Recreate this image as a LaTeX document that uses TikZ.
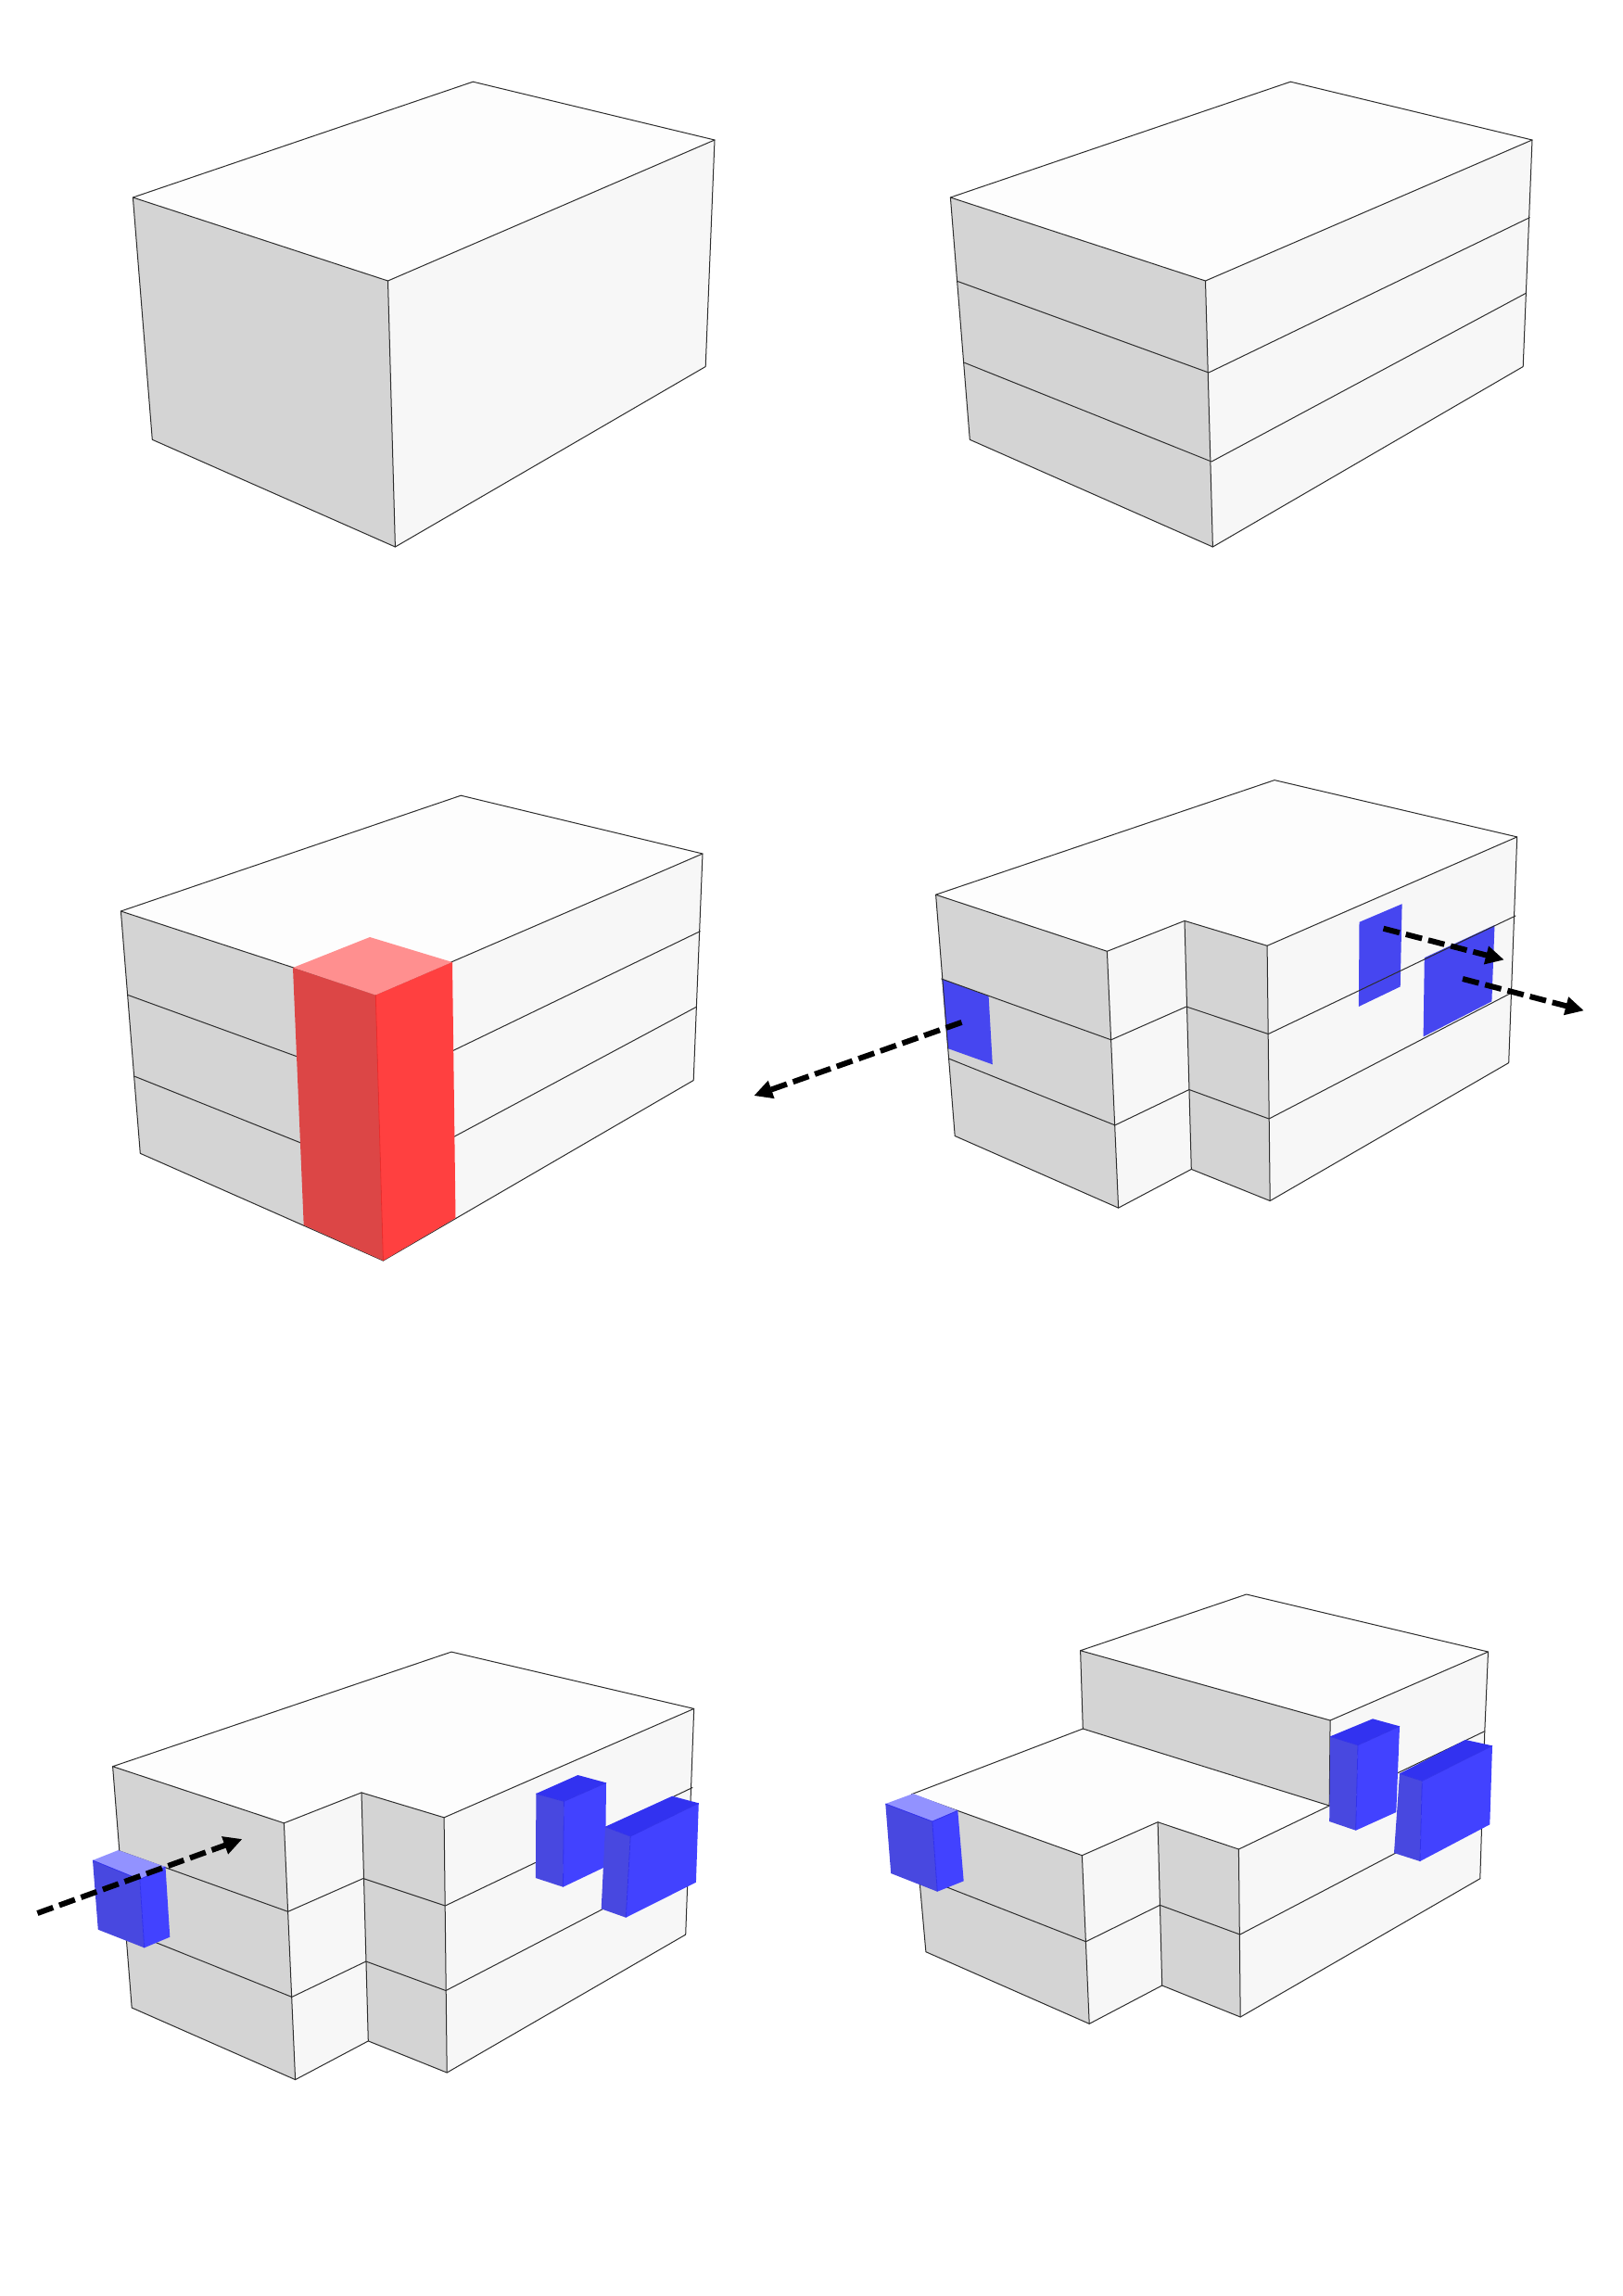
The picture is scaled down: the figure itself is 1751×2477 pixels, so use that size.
\documentclass[tikz,border=0pt]{standalone}
\usetikzlibrary{arrows.meta}
\definecolor{topc}{RGB}{253,253,253}
\definecolor{leftc}{RGB}{212,212,212}
\definecolor{rightc}{RGB}{247,247,247}
\definecolor{edgec}{RGB}{45,45,45}
\definecolor{bluew}{RGB}{70,70,240}
\definecolor{blueL}{RGB}{72,72,224}
\definecolor{blueR}{RGB}{66,66,255}
\definecolor{blueT}{RGB}{50,50,240}
\definecolor{blueP}{RGB}{146,146,255}
\definecolor{blueE}{RGB}{50,50,235}
\definecolor{redT}{RGB}{255,143,143}
\definecolor{redL}{RGB}{220,70,70}
\definecolor{redR}{RGB}{255,64,64}
\definecolor{redE}{RGB}{235,45,45}
\tikzset{
  topf/.style={fill=topc,draw=none},
  leftf/.style={fill=leftc,draw=none},
  rightf/.style={fill=rightc,draw=none},
  edge/.style={draw=edgec,line width=1pt,line join=round,line cap=round},
  blueline/.style={draw=blueE,line width=0.8pt,line join=round},
  redline/.style={draw=redE,line width=0.8pt,line join=round},
  flow/.style={draw=black,line width=6pt,dash pattern=on 18pt off 7pt,-{Triangle[length=20pt,width=19pt]}},
}
% args: top colour, back, left, front, right, bottom-left, bottom-front, bottom-right
\newcommand{\bluebox}[8]{%
  \fill[#1] (#2)--(#3)--(#4)--(#5)--cycle;
  \fill[blueL] (#3)--(#4)--(#7)--(#6)--cycle;
  \fill[blueR] (#4)--(#5)--(#8)--(#7)--cycle;
  \draw[blueline] (#3)--(#4)--(#5) (#4)--(#7);
}
\newcommand{\basebox}{%
  \fill[leftf] (130.4,983)--(405.5,1073)--(413.4,1360)--(151.3,1244.3)--cycle;
  \fill[rightf] (405.5,1073)--(758,921)--(748.2,1165.5)--(413.4,1360)--cycle;
  \fill[topf] (130.4,983)--(497.3,858.2)--(758,921)--(405.5,1073)--cycle;
  \draw[edge] (130.4,983)--(497.3,858.2)--(758,921)--(405.5,1073)--cycle;
  \draw[edge] (130.4,983)--(151.3,1244.3)--(413.4,1360)--(405.5,1073);
  \draw[edge] (413.4,1360)--(748.2,1165.5)--(758,921);
}
\newcommand{\floors}{%
  \draw[edge] (138.4,1073.6)--(409,1172)--(755.3,1004.7);
  \draw[edge] (145.5,1161.3)--(412,1268)--(751.3,1086.3);
}
\newcommand{\notched}[1]{%
  \fill[topf] (1009.6,965.2)--(1375,841.6)--(1636.7,902.9)--(1367.1,1020.3)--(1278,993.4)--(1194.4,1026.3)--cycle;
  \fill[leftf] (1009.6,965.2)--(1194.4,1026.3)--(1206.6,1303.1)--(1030.2,1225.5)--cycle;
  \fill[rightf] (1194.4,1026.3)--(1278,993.4)--(1285.3,1261.4)--(1206.6,1303.1)--cycle;
  \fill[leftf] (1278,993.4)--(1367.1,1020.3)--(1370.2,1295.5)--(1285.3,1261.4)--cycle;
  \fill[rightf] (1367.1,1020.3)--(1636.7,902.9)--(1627.7,1146.6)--(1370.2,1295.5)--cycle;
  #1
  \draw[edge] (1009.6,965.2)--(1375,841.6)--(1636.7,902.9)--(1367.1,1020.3)--(1278,993.4)--(1194.4,1026.3)--cycle;
  \draw[edge] (1009.6,965.2)--(1030.2,1225.5)--(1206.6,1303.1)--(1285.3,1261.4)--(1370.2,1295.5)--(1627.7,1146.6)--(1636.7,902.9);
  \draw[edge] (1194.4,1026.3)--(1206.6,1303.1);
  \draw[edge] (1278,993.4)--(1285.3,1261.4);
  \draw[edge] (1367.1,1020.3)--(1370.2,1295.5);
  \draw[edge] (1015.7,1056)--(1198.7,1121.8)--(1279.9,1086)--(1368.3,1115.5)--(1635,988);
  \draw[edge] (1024.2,1142.3)--(1202.9,1213.9)--(1282.9,1175.5)--(1369,1207)--(1628.9,1072);
}
\begin{document}
\begin{tikzpicture}[x=1pt,y=-1pt]
\useasboundingbox (0,0) rectangle (1751,2477);
\fill[white] (0,0) rectangle (1751,2477);
% panel 1
\begin{scope}[shift={(13,-770)}]
  \basebox
\end{scope}
% panel 2
\begin{scope}[shift={(895,-770)}]
  \basebox
  \floors
\end{scope}
% panel 3
\basebox
\floors
\fill[redT] (399,1011)--(316,1044)--(405.3,1073.6)--(488,1038)--cycle;
\fill[redL] (316,1044)--(405.3,1073.6)--(413.4,1360)--(327.7,1321.6)--cycle;
\fill[redR] (405.3,1073.6)--(488,1038)--(491.5,1314)--(413.4,1360)--cycle;
\draw[redline] (405.3,1073.6)--(413.4,1360);
% panel 4
\notched{%
  \fill[bluew] (1016.3,1056)--(1066.6,1074.7)--(1070.8,1148.3)--(1022.4,1131)--cycle;
  \fill[bluew] (1466.5,994.8)--(1512.6,975.2)--(1510.7,1064.4)--(1465.9,1085.9)--cycle;
  \fill[bluew] (1536.8,1033.2)--(1612.5,998)--(1609.4,1080.3)--(1535.6,1118.4)--cycle;
}
\coordinate (a1s) at (1037.5,1102.9); \coordinate (a1e) at (813.3,1182.1);
\coordinate (a2s) at (1492.5,1001.7); \coordinate (a2e) at (1622.8,1035.5);
\coordinate (a3s) at (1578,1056); \coordinate (a3e) at (1708.9,1090.3);
\draw[flow] (a1s)--(a1e);
\draw[flow] (a2s)--(a2e);
\draw[flow] (a3s)--(a3e);
% panel 5
\begin{scope}[shift={(-888,940.5)}]
  \notched{}
\end{scope}
\bluebox{blueT}{623.4,1915}{578.4,1935}{608.4,1943.3}{654,1923.3}{577.9,2026}{607.5,2035.7}{653,2014}
\bluebox{blueT}{725.2,1937.7}{653,1970.7}{680.2,1981}{753.8,1945.3}{648.7,2059.3}{675.3,2068.7}{750.9,2030.7}
\bluebox{blueP}{127.6,1996}{100,2007}{150.9,2027.7}{178.5,2014}{105.8,2081.7}{155.7,2101.3}{183.3,2089.7}
\coordinate (a4s) at (40.4,2064); \coordinate (a4e) at (261.4,1984);
\draw[flow] (a4s)--(a4e);
% panel 6
\fill[topf] (1165.6,1780.7)--(1344.7,1720)--(1605.5,1782)--(1435.1,1856)--cycle;
\fill[leftf] (1165.6,1780.7)--(1435.1,1856)--(1434.2,1948)--(1168.3,1865)--cycle;
\fill[rightf] (1435.1,1856)--(1605.5,1782)--(1601.8,1867.7)--(1434.2,1948)--cycle;
\fill[topf] (983.7,1935.6)--(1168.3,1865)--(1434.2,1948)--(1336.4,1995)--(1249.1,1965.7)--(1167.4,2001.7)--cycle;
\fill[leftf] (983.7,1935.6)--(1167.4,2001.7)--(1175.2,2183.3)--(998.9,2105.7)--cycle;
\fill[rightf] (1167.4,2001.7)--(1249.1,1965.7)--(1253.7,2142)--(1175.2,2183.3)--cycle;
\fill[leftf] (1249.1,1965.7)--(1336.4,1995)--(1338.2,2176)--(1253.7,2142)--cycle;
\fill[rightf] (1336.4,1995)--(1601.8,1867.7)--(1596.8,2026.7)--(1338.2,2176)--cycle;
\draw[edge] (1165.6,1780.7)--(1344.7,1720)--(1605.5,1782)--(1435.1,1856)--cycle;
\draw[edge] (1165.6,1780.7)--(1168.3,1865)--(1434.2,1948);
\draw[edge] (1435.1,1856)--(1434.2,1948);
\draw[edge] (1605.5,1782)--(1601.8,1867.7)--(1596.8,2026.7);
\draw[edge] (1168.3,1865)--(983.7,1935.6)--(1167.4,2001.7)--(1249.1,1965.7)--(1336.4,1995)--(1601.8,1867.7);
\draw[edge] (983.7,1935.6)--(998.9,2105.7)--(1175.2,2183.3)--(1253.7,2142)--(1338.2,2176)--(1596.8,2026.7);
\draw[edge] (1167.4,2001.7)--(1175.2,2183.3);
\draw[edge] (1249.1,1965.7)--(1253.7,2142);
\draw[edge] (1336.4,1995)--(1338.2,2176);
\draw[edge] (992.9,2024.7)--(1171.5,2094.7)--(1251.4,2055.3)--(1337.8,2087)--(1599.5,1950);
\bluebox{blueT}{1481,1854.3}{1435.1,1873.3}{1465,1882.7}{1510,1862.3}{1434.2,1965}{1462.7,1974.7}{1506.3,1955}
\bluebox{blueT}{1581.1,1877}{1510,1913.3}{1534.3,1921.3}{1610,1883.3}{1504,1999}{1532,2008}{1607.3,1968.3}
\bluebox{blueP}{985.1,1935}{955.3,1946}{1005.8,1965}{1033.3,1953.3}{961.2,2021}{1011.3,2040.7}{1039.7,2029.3}
\end{tikzpicture}
\end{document}
